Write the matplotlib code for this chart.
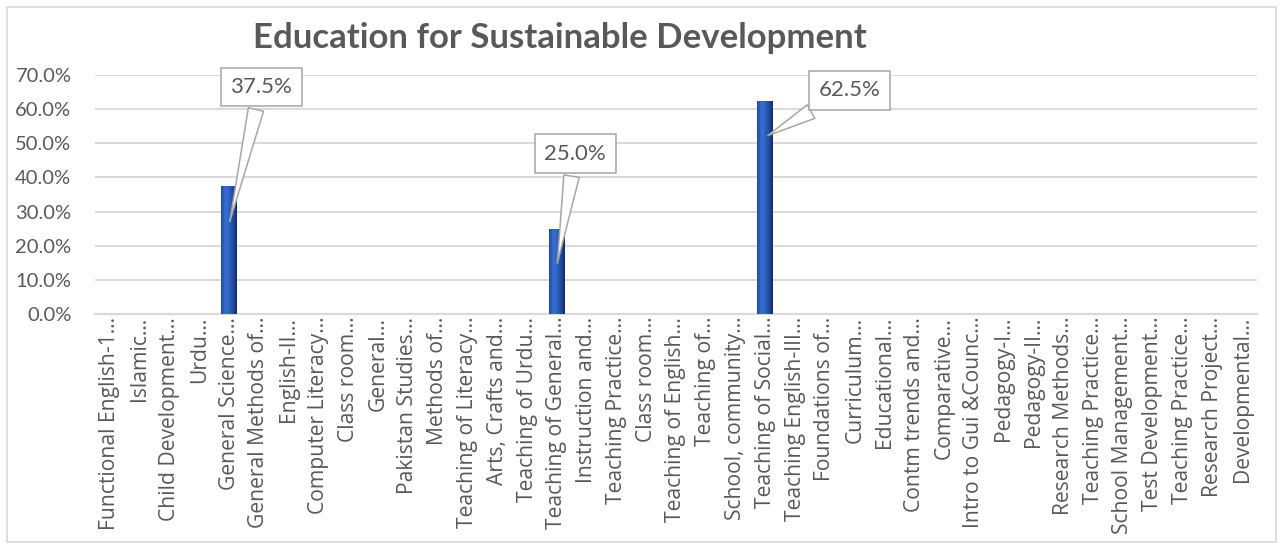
import matplotlib
matplotlib.use("Agg")
import matplotlib.pyplot as plt
import numpy as np
from matplotlib.patches import Rectangle
from matplotlib.ticker import PercentFormatter

courses = [
    "Functional English-1…", "Islamic…", "Child Development…", "Urdu…",
    "General Science…", "General Methods of…", "English-II…",
    "Computer Literacy…", "Class room…", "General…", "Pakistan Studies…",
    "Methods of…", "Teaching of Literacy…", "Arts, Crafts and…",
    "Teaching of Urdu…", "Teaching of General…", "Instruction and…",
    "Teaching Practice…", "Class room…", "Teaching of English…",
    "Teaching of…", "School, community…", "Teaching of Social…",
    "Teaching English-III…", "Foundations of…", "Curriculum…",
    "Educational…", "Contm trends and…", "Comparative…",
    "Intro to Gui &Counc…", "Pedagogy-I…", "Pedagogy-II…",
    "Research Methods…", "Teaching Practice…", "School Management…",
    "Test Development…", "Teaching Practice…", "Research Project…",
    "Developmental…",
]
share = [0, 0, 0, 0, 0.375, 0, 0, 0, 0, 0, 0, 0, 0, 0, 0, 0.25, 0, 0, 0,
         0, 0, 0, 0.625, 0, 0, 0, 0, 0, 0, 0, 0, 0, 0, 0, 0, 0, 0, 0, 0]
y_ticks = [0.0, 0.1, 0.2, 0.3, 0.4, 0.5, 0.6, 0.7]

TXT = "#595959"
GRID = "#D9D9D9"
W, H = 1283, 549

fig = plt.figure(figsize=(W / 100, H / 100), dpi=100)
fig.patch.set_facecolor("white")

# chart frame
fig.add_artist(Rectangle((7 / W, 7 / H), 1269 / W, 535 / H,
                         transform=fig.transFigure, fill=False,
                         ec="#D9D9D9", lw=1.2))

ax = fig.add_axes([95 / W, 1 - 314 / H, 1162 / W, 239 / H])
x = np.arange(len(courses))
bars = ax.bar(x, share, width=0.53, color="#2A5BB5", ec="none", zorder=3)

# horizontal shading on each bar for a cylindrical look
cmap = matplotlib.colors.LinearSegmentedColormap.from_list(
    "bar", [(0.0, "#1F4AA0"), (0.3, "#3A6FD4"), (0.5, "#3063C4"),
            (0.85, "#1D428E"), (1.0, "#112A62")])
grad = np.linspace(0, 1, 64)[None, :]
for b, v in zip(bars, share):
    if v <= 0:
        continue
    x0, w = b.get_x(), b.get_width()
    im = ax.imshow(grad, extent=(x0, x0 + w, 0, v), aspect="auto",
                   cmap=cmap, vmin=0, vmax=1, zorder=3.5,
                   interpolation="bilinear")
    im.set_clip_path(b)

ax.set_xlim(-0.5, len(courses) - 0.5)
ax.set_ylim(0, 0.7)
ax.set_yticks(y_ticks)
ax.yaxis.set_major_formatter(PercentFormatter(1.0, decimals=1))
ax.grid(axis="y", color=GRID, lw=1.4, zorder=0)
for s in ["top", "right", "left"]:
    ax.spines[s].set_visible(False)
ax.spines["bottom"].set_color(GRID)
ax.spines["bottom"].set_linewidth(1.6)

ax.set_xticks(x)
ax.set_xticklabels(courses, rotation=90, fontsize=15.2, color=TXT,
                   family="Open Sans", ha="center", va="top")
ax.tick_params(axis="x", length=0, pad=2)
ax.tick_params(axis="y", length=0, labelsize=14.5, labelcolor=TXT, pad=17)
for t in ax.get_yticklabels():
    t.set_family("Lato")

# callout labels: (box x, box y, pointer position as share of bar height)
callouts = {4: (5.08, 0.665, 0.70), 15: (15.62, 0.47, 0.56),
            22: (24.82, 0.655, 0.83)}
for i, (tx, ty, frac) in callouts.items():
    v = share[i]
    ax.annotate(f"{v * 100:.1f}%", xy=(i, v * frac), xytext=(tx, ty),
                fontsize=16, color=TXT, family="Lato", ha="center",
                va="center", zorder=6,
                bbox=dict(boxstyle="square,pad=0.42", fc="white",
                          ec="#A6A6A6", lw=1.1),
                arrowprops=dict(arrowstyle="wedge,tail_width=0.7,shrink_factor=0.5",
                                fc="white", ec="#A6A6A6", lw=1.1))

fig.text(560 / W, 1 - 38 / H, "Education for Sustainable Development",
         fontsize=25, fontweight="bold", color=TXT, family="Lato",
         ha="center", va="center")

fig.savefig("out.png", dpi=100, facecolor="white")
